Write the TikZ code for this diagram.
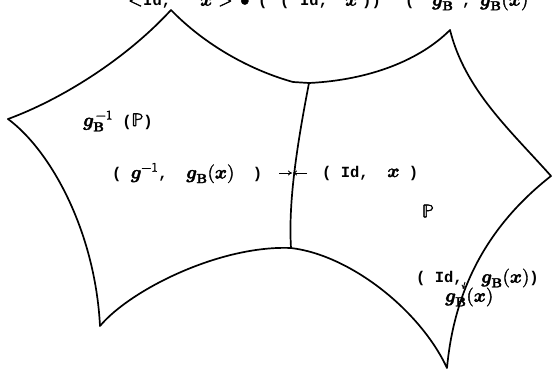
\documentclass[tikz,border=0pt]{standalone}
\usepackage{fontspec}
\usepackage{unicode-math}
\setmainfont{Liberation Mono}[BoldFont={Liberation Mono Bold}]
\setmathfont{Latin Modern Math}[Scale=1.2, FakeBold=2]
\usetikzlibrary{arrows.meta}
\newcommand\mg{\symbfit{g}}
\newcommand\mx{\symbfit{x}}
\newcommand\mB{\symbf{B}}
\newcommand\atx[2]{\makebox[0pt][l]{\hspace{#1pt}#2}}
\tikzset{
  edge/.style={line width=1.7pt, line join=round, line cap=round},
  lbl/.style={font=\fontsize{15.5}{18}\selectfont\bfseries, inner sep=0pt},
  tip/.style={-{To[length=4pt,width=5pt]}, line width=0.9pt}
}
\begin{document}
\begin{tikzpicture}[x=1pt,y=-1pt]
\useasboundingbox (0,0) rectangle (553,370);
% vertices
\coordinate (T) at (171,10);
\coordinate (M1) at (293,82);
\coordinate (J) at (309,83);
\coordinate (L) at (8,119);
\coordinate (BL) at (100,326);
\coordinate (BM) at (291,248);
\coordinate (RT) at (450,30);
\coordinate (R) at (551,176);
\coordinate (B) at (447,368);
% left polygon
\draw[edge] (L) .. controls (60,100) and (125,60) .. (T)
            .. controls (205,45) and (250,70) .. (M1) -- (J);
\draw[edge] (L) .. controls (50,150) and (95,230) .. (BL)
            .. controls (130,290) and (220,245) .. (BM);
% shared edge
\draw[edge] (J) .. controls (298,140) and (288,200) .. (BM);
% right polygon
\draw[edge] (J) .. controls (370,80) and (420,60) .. (RT)
            .. controls (465,90) and (510,130) .. (R)
            .. controls (495,220) and (455,280) .. (B)
            .. controls (420,310) and (350,255) .. (BM);
% texts
\node[lbl, anchor=west] (top) at (128,1) {\atx{0}{$<$}\atx{15}{Id,}\atx{72}{$\mx$}\atx{90}{$>$}\atx{112}{$\bullet$}\atx{130}{(}\atx{152}{(}\atx{172}{Id,}\atx{217}{$\mx$}\atx{234}{))}\atx{277}{(}\atx{304}{$\mg_{\mB}$}\atx{334}{,}\atx{352}{$\mg_{\mB}(\mx)$}\phantom{X}};
\node[lbl, anchor=west] (ginv) at (83,121) {$\mg_{\mB}^{\,-1}$ ($\mathbb{P}$)};
\node[lbl, anchor=west] (left) at (112,173) {( $\mg^{-1}$, ~$\mg_{\mB}(\mx)$ ~)};
\node[lbl, anchor=west] (right) at (322,173) {( Id, ~$\mx$ )};
\node[lbl] (P) at (428,211) {$\mathbb{P}$};
\node[lbl, anchor=west] (idg) at (416,278) {( Id,~ $\mg_{\mB}(\mx)$)};
\node[lbl, anchor=west] (gbx) at (445,297) {$\mg_{\mB}(\mx)$};
\coordinate (Lm) at (292,173);
\coordinate (Rm) at (293,173);
\coordinate (Cv) at (463,289);
\draw[tip] (279,173) -- (Lm);
\draw[tip] (307,173) -- (Rm);
\draw[tip] (465,282) -- (Cv);
\end{tikzpicture}
\end{document}
